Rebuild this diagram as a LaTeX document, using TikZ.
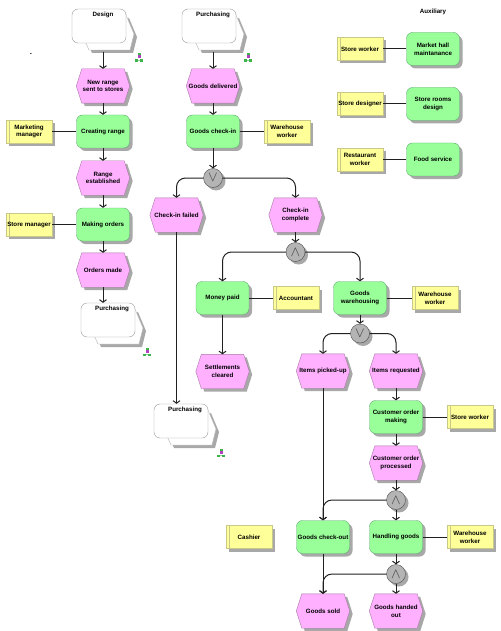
\documentclass[tikz,border=0pt]{standalone}
\usepackage{fontspec}
\setmainfont{Liberation Sans}
\usepackage{amsmath,amssymb}
\usetikzlibrary{arrows.meta,positioning,calc,shadows}
\definecolor{FuncGreen}{HTML}{99FF99}
\definecolor{FuncEdge}{HTML}{5FA86F}
\definecolor{EventPink}{HTML}{FFB0FF}
\definecolor{EventEdge}{HTML}{A878A8}
\definecolor{OrgYellow}{HTML}{FFFF99}
\definecolor{OrgEdge}{HTML}{C8C888}
\definecolor{ShadowGray}{HTML}{A8A8A8}
\definecolor{GateGray}{HTML}{B4B4B4}
\definecolor{LinkDark}{HTML}{202020}
\definecolor{MarkGreen}{HTML}{3CB44B}
\definecolor{MarkPurple}{HTML}{B040C0}
\makeatletter
\pgfdeclareshape{evthex}{
  \inheritsavedanchors[from=rectangle]
  \inheritanchorborder[from=rectangle]
  \inheritanchor[from=rectangle]{center}
  \inheritanchor[from=rectangle]{north}
  \inheritanchor[from=rectangle]{south}
  \inheritanchor[from=rectangle]{east}
  \inheritanchor[from=rectangle]{west}
  \backgroundpath{
    \southwest \pgf@xa=\pgf@x \pgf@ya=\pgf@y
    \northeast \pgf@xb=\pgf@x \pgf@yb=\pgf@y
    \pgfpathmoveto{\pgfpoint{\pgf@xa}{0.5\pgf@ya+0.5\pgf@yb}}
    \pgfpathlineto{\pgfpoint{\pgf@xa+5.5pt}{\pgf@yb}}
    \pgfpathlineto{\pgfpoint{\pgf@xb-5.5pt}{\pgf@yb}}
    \pgfpathlineto{\pgfpoint{\pgf@xb}{0.5\pgf@ya+0.5\pgf@yb}}
    \pgfpathlineto{\pgfpoint{\pgf@xb-5.5pt}{\pgf@ya}}
    \pgfpathlineto{\pgfpoint{\pgf@xa+5.5pt}{\pgf@ya}}
    \pgfpathclose
  }
}
\makeatother
\newcommand{\ProcPath}[4]{% name, left, top, title
  \fill[ShadowGray,shift={(#2+3,#3+3)}] (54,6)--(62,25)--(58,41)--(17,41)--(12,30)--cycle;
  \draw[draw=black!30,fill=white,shift={(#2,#3)}] (54,6)--(62,25)--(58,41)--(17,41)--(12,30)--cycle;
  \node[procbox] (#1) at (#2+27,#3+17) {};
  \node[txt] (#1t) at (#2+31,#3+5.5) {#4};
  \coordinate (#1b) at (#2+31,#3+43);
}
\newcommand{\TreeMark}[2]{% small hierarchy mark
  \draw[MarkGreen!60,line width=.6pt] (#1-2.5,#2+2.6)--(#1+2.5,#2+2.6);
  \fill[MarkGreen] (#1-1.5,#2-4.5) rectangle (#1+1.5,#2-2.5);
  \fill[MarkPurple] (#1-1.5,#2-2.5) rectangle (#1+1.5,#2+.5);
  \fill[MarkGreen] (#1-4,#2+1.5) rectangle (#1-1.3,#2+4);
  \fill[MarkGreen] (#1+1.3,#2+1.5) rectangle (#1+4,#2+4);
}
\begin{document}
\begin{tikzpicture}[x=1pt,y=-1pt,>={Straight Barb[length=2.5pt,width=7pt]},
  txt/.style={inner sep=0pt,align=center,font=\fontsize{6.2}{7.6}\selectfont\bfseries},
  shade3/.style={drop shadow={shadow xshift=3pt,shadow yshift=-3pt,fill=ShadowGray,opacity=1}},
  func/.style={txt,rounded corners=6pt,minimum width=53pt,minimum height=33pt,draw=FuncEdge,fill=FuncGreen,shade3},
  evt/.style={txt,shape=evthex,minimum width=53pt,minimum height=34pt,draw=EventEdge,fill=EventPink,shade3},
  org/.style={txt,minimum width=46pt,minimum height=23pt,draw=OrgEdge,fill=OrgYellow,shade3,
    path picture={\draw[OrgEdge] ([xshift=3pt]path picture bounding box.north west)--([xshift=3pt]path picture bounding box.south west);}},
  procbox/.style={rounded corners=6pt,minimum width=54pt,minimum height=34pt,inner sep=0pt,draw=black!40,fill=white},
  gate/.style={circle,minimum size=19pt,inner sep=0pt,draw=black!70,fill=GateGray,shade3,font=\Large,text=black!75},
  link/.style={draw=LinkDark,line width=1pt},
  flow/.style={link,->},
  bendflow/.style={link,->,rounded corners=9pt}]
\useasboundingbox (0,0) rectangle (500,631);

% left column
\node[txt] (dash) at (31,55) {-};
\ProcPath{design}{72}{9}{Design}
\TreeMark{139}{58}
\node[evt] (newrange) at (103,86) {New range\\sent to stores};
\node[func] (creating) at (103,131.5) {Creating range};
\node[org] (marketing) at (29,131.5) {Marketing\\manager};
\node[evt] (established) at (103,178) {Range\\established};
\node[func] (making) at (103,224.5) {Making orders};
\node[org] (storemgr) at (29,224.5) {Store manager};
\node[evt] (ordersmade) at (103,270) {Orders made};
\ProcPath{purchC}{81}{303}{Purchasing}
\TreeMark{147}{352}
\draw[flow] (designb)--(newrange);
\draw[flow] (newrange)--(creating);
\draw[flow] (creating)--(established);
\draw[flow] (established)--(making);
\draw[flow] (making)--(ordersmade);
\draw[flow] (ordersmade.south)--(ordersmade.south|-purchC.north);
\draw[link] (marketing)--(creating);
\draw[link] (storemgr)--(making);

% middle column
\ProcPath{purchA}{182}{9}{Purchasing}
\TreeMark{248}{58}
\node[evt] (delivered) at (213,86) {Goods delivered};
\node[func] (checkin) at (213,131.5) {Goods check-in};
\node[org] (whA) at (287,131.5) {Warehouse\\worker};
\node[gate] (orA) at (213,178) {$\vee$};
\node[evt] (failed) at (176.5,215) {Check-in failed};
\node[evt] (complete) at (295.5,215) {Check-in\\complete};
\node[gate] (andA) at (295.5,252) {$\wedge$};
\node[func] (paid) at (222.5,298) {Money paid};
\node[org] (accountant) at (296,298) {Accountant};
\node[func] (warehousing) at (360,298) {Goods\\warehousing};
\node[org] (whB) at (435,298) {Warehouse\\worker};
\node[evt] (settled) at (222.5,371.5) {Settlements\\cleared};
\ProcPath{purchB}{154}{404}{Purchasing}
\TreeMark{221}{453}
\draw[flow] (purchAb)--(delivered);
\draw[flow] (delivered)--(checkin);
\draw[flow] (checkin)--(orA);
\draw[bendflow] (orA)-|(failed);
\draw[bendflow] (orA)-|(complete);
\draw[flow] (complete)--(andA);
\draw[bendflow] (andA)-|(paid);
\draw[bendflow] (andA)-|(warehousing);
\draw[flow] (paid)--(settled);
\draw[flow] (failed.south)--(failed.south|-purchB.north);
\draw[link] (checkin)--(whA);
\draw[link] (paid)--(accountant);
\draw[link] (warehousing)--(whB);

% right part
\node[gate] (orB) at (360,333.5) {$\vee$};
\node[evt] (pickedup) at (323,371) {Items picked-up};
\node[evt] (requested) at (396,371) {Items requested};
\node[func] (custmaking) at (396,417) {Customer order\\making};
\node[org] (swB) at (470,417) {Store worker};
\node[evt] (custdone) at (396,463) {Customer order\\processed};
\node[gate] (andB) at (396,500) {$\wedge$};
\node[org] (cashier) at (249,537) {Cashier};
\node[func] (checkout) at (323,537) {Goods check-out};
\node[func] (handling) at (396,537) {Handling goods};
\node[org] (whC) at (470,537) {Warehouse\\worker};
\node[gate] (andC) at (396,574) {$\wedge$};
\node[evt] (sold) at (323,611) {Goods sold};
\node[evt] (handed) at (396,611) {Goods handed\\out};
\draw[flow] (warehousing)--(orB);
\draw[bendflow] (orB)-|(pickedup);
\draw[bendflow] (orB)-|(requested);
\draw[flow] (requested)--(custmaking);
\draw[flow] (custmaking)--(custdone);
\draw[flow] (custdone)--(andB);
\draw[flow] (andB)--(handling);
\draw[flow] (pickedup)--(checkout);
\draw[bendflow] (andB)-|(checkout);
\draw[flow] (handling)--(andC);
\draw[flow] (checkout)--(sold);
\draw[bendflow] (andC)-|(sold);
\draw[flow] (andC)--(handed);
\draw[link] (custmaking)--(swB);
\draw[link] (handling)--(whC);

% auxiliary
\node[txt] (auxtitle) at (433,12) {Auxiliary};
\node[func] (hall) at (433,49) {Market hall\\maintanance};
\node[org] (swA) at (360,49) {Store worker};
\node[func] (rooms) at (433,104) {Store rooms\\design};
\node[org] (designer) at (360,104) {Store designer};
\node[func] (food) at (433,159.5) {Food service};
\node[org] (restaurant) at (360,159.5) {Restaurant\\worker};
\draw[link] (swA)--(hall);
\draw[link] (designer)--(rooms);
\draw[link] (restaurant)--(food);
\end{tikzpicture}
\end{document}
